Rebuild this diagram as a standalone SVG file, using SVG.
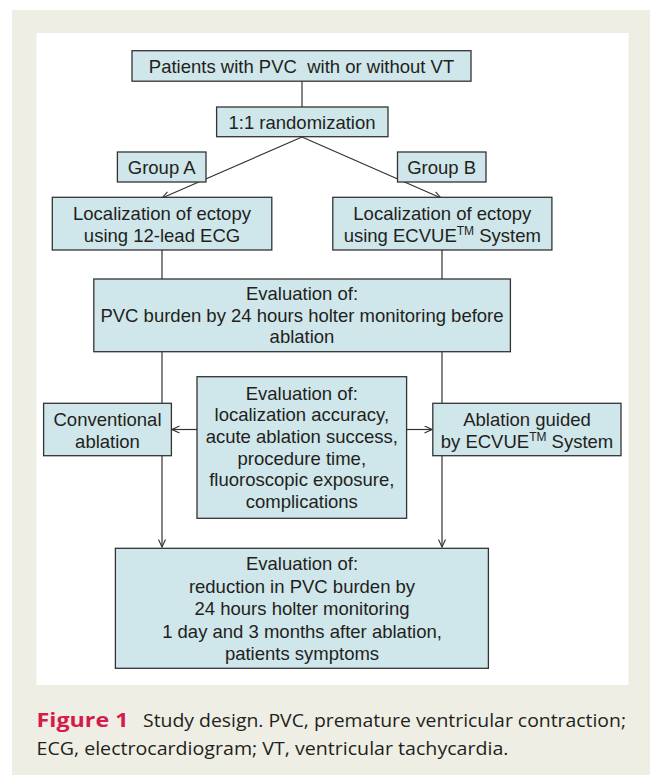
<svg xmlns="http://www.w3.org/2000/svg" width="650" height="775" viewBox="0 0 650 775">
<defs>
<style>
.box{fill:#cfe6ea;stroke:#333333;stroke-width:1.3}
.t{font-family:"Liberation Sans",Arial,sans-serif;font-size:18.5px;fill:#231f20;text-anchor:middle}
.tm{font-size:12px}
.ln{stroke:#333333;stroke-width:1.2;fill:none}
.cap{font-family:"Open Sans","Noto Sans",sans-serif;font-size:17.5px;fill:#231f20}
.fig{font-family:"Open Sans","Noto Sans",sans-serif;font-size:20px;font-weight:bold;fill:#d51a4c}
</style>
<marker id="ah" markerWidth="9" markerHeight="9" refX="8" refY="4" orient="auto" markerUnits="userSpaceOnUse">
<path d="M0.5,0.5 L8,4 L0.5,7.5" fill="none" stroke="#333333" stroke-width="1.1"/>
</marker>
</defs>
<rect x="0" y="0" width="650" height="775" fill="#ffffff"/>
<rect x="12" y="10" width="638" height="765" fill="#efeee4"/>
<rect x="36.5" y="33" width="592" height="652" fill="#ffffff"/>
<g id="connectors">
<line class="ln" x1="302" y1="81" x2="302" y2="107"/>
<line class="ln" x1="302" y1="137" x2="162" y2="198" marker-end="url(#ah)"/>
<line class="ln" x1="302" y1="137" x2="441" y2="198" marker-end="url(#ah)"/>
<line class="ln" x1="162" y1="250" x2="162" y2="279"/>
<line class="ln" x1="442" y1="250" x2="442" y2="279"/>
<line class="ln" x1="162" y1="352" x2="162" y2="547" marker-end="url(#ah)"/>
<line class="ln" x1="442" y1="352" x2="442" y2="547" marker-end="url(#ah)"/>
<line class="ln" x1="197" y1="429.5" x2="172" y2="429.5" marker-end="url(#ah)"/>
<line class="ln" x1="406.6" y1="429.5" x2="432" y2="429.5" marker-end="url(#ah)"/>
</g>
<g id="patients">
<rect class="box" x="132" y="50.7" width="339" height="30.5"/>
<text class="t" x="301.5" y="72.5" xml:space="preserve">Patients with PVC  with or without VT</text>
</g>
<g id="randomization">
<rect class="box" x="216.6" y="107" width="171.4" height="29.7"/>
<text class="t" x="302" y="128.5">1:1 randomization</text>
</g>
<g id="groupA">
<rect class="box" x="117.4" y="152" width="88.6" height="30"/>
<text class="t" x="161.7" y="173.6">Group A</text>
</g>
<g id="groupB">
<rect class="box" x="397.5" y="152" width="88.5" height="30"/>
<text class="t" x="441.7" y="173.6">Group B</text>
</g>
<g id="locA">
<rect class="box" x="52.3" y="197.3" width="219.5" height="52.7"/>
<text class="t" x="162" y="220">Localization of ectopy</text>
<text class="t" x="162" y="241.5">using 12-lead ECG</text>
</g>
<g id="locB">
<rect class="box" x="332.8" y="197.3" width="219.1" height="52.7"/>
<text class="t" x="442.3" y="220">Localization of ectopy</text>
<text class="t" x="442.3" y="241.5">using ECVUE<tspan class="tm" dy="-7">TM</tspan><tspan dy="7"> System</tspan></text>
</g>
<g id="evalBefore">
<rect class="box" x="93.8" y="279" width="416.6" height="72.7"/>
<text class="t" x="302" y="300">Evaluation of:</text>
<text class="t" x="302" y="321.7">PVC burden by 24 hours holter monitoring before</text>
<text class="t" x="302" y="343">ablation</text>
</g>
<g id="evalProcedure">
<rect class="box" x="197" y="376.7" width="209.6" height="141.6"/>
<text class="t" x="301.8" y="399.5">Evaluation of:</text>
<text class="t" x="301.8" y="421.2">localization accuracy,</text>
<text class="t" x="301.8" y="442.9">acute ablation success,</text>
<text class="t" x="301.8" y="464.6">procedure time,</text>
<text class="t" x="301.8" y="486.3">fluoroscopic exposure,</text>
<text class="t" x="301.8" y="508">complications</text>
</g>
<g id="conventional">
<rect class="box" x="43.6" y="403.3" width="127.8" height="52.4"/>
<text class="t" x="107.5" y="426">Conventional</text>
<text class="t" x="107.5" y="447.5">ablation</text>
</g>
<g id="guided">
<rect class="box" x="432.8" y="403.3" width="188.2" height="52.4"/>
<text class="t" x="527" y="426">Ablation guided</text>
<text class="t" x="527" y="447.5">by ECVUE<tspan class="tm" dy="-7">TM</tspan><tspan dy="7"> System</tspan></text>
</g>
<g id="evalAfter">
<rect class="box" x="115.4" y="548.3" width="373" height="120"/>
<text class="t" x="302" y="570">Evaluation of:</text>
<text class="t" x="302" y="592.5">reduction in PVC burden by</text>
<text class="t" x="302" y="615.2">24 hours holter monitoring</text>
<text class="t" x="302" y="637.5">1 day and 3 months after ablation,</text>
<text class="t" x="302" y="660">patients symptoms</text>
</g>
<g id="caption">
<text class="fig" x="36.5" y="727" textLength="92" lengthAdjust="spacingAndGlyphs">Figure 1</text>
<text class="cap" x="143" y="727" textLength="483" lengthAdjust="spacingAndGlyphs">Study design. PVC, premature ventricular contraction;</text>
<text class="cap" x="36.5" y="754.5" textLength="472" lengthAdjust="spacingAndGlyphs">ECG, electrocardiogram; VT, ventricular tachycardia.</text>
</g>
</svg>
